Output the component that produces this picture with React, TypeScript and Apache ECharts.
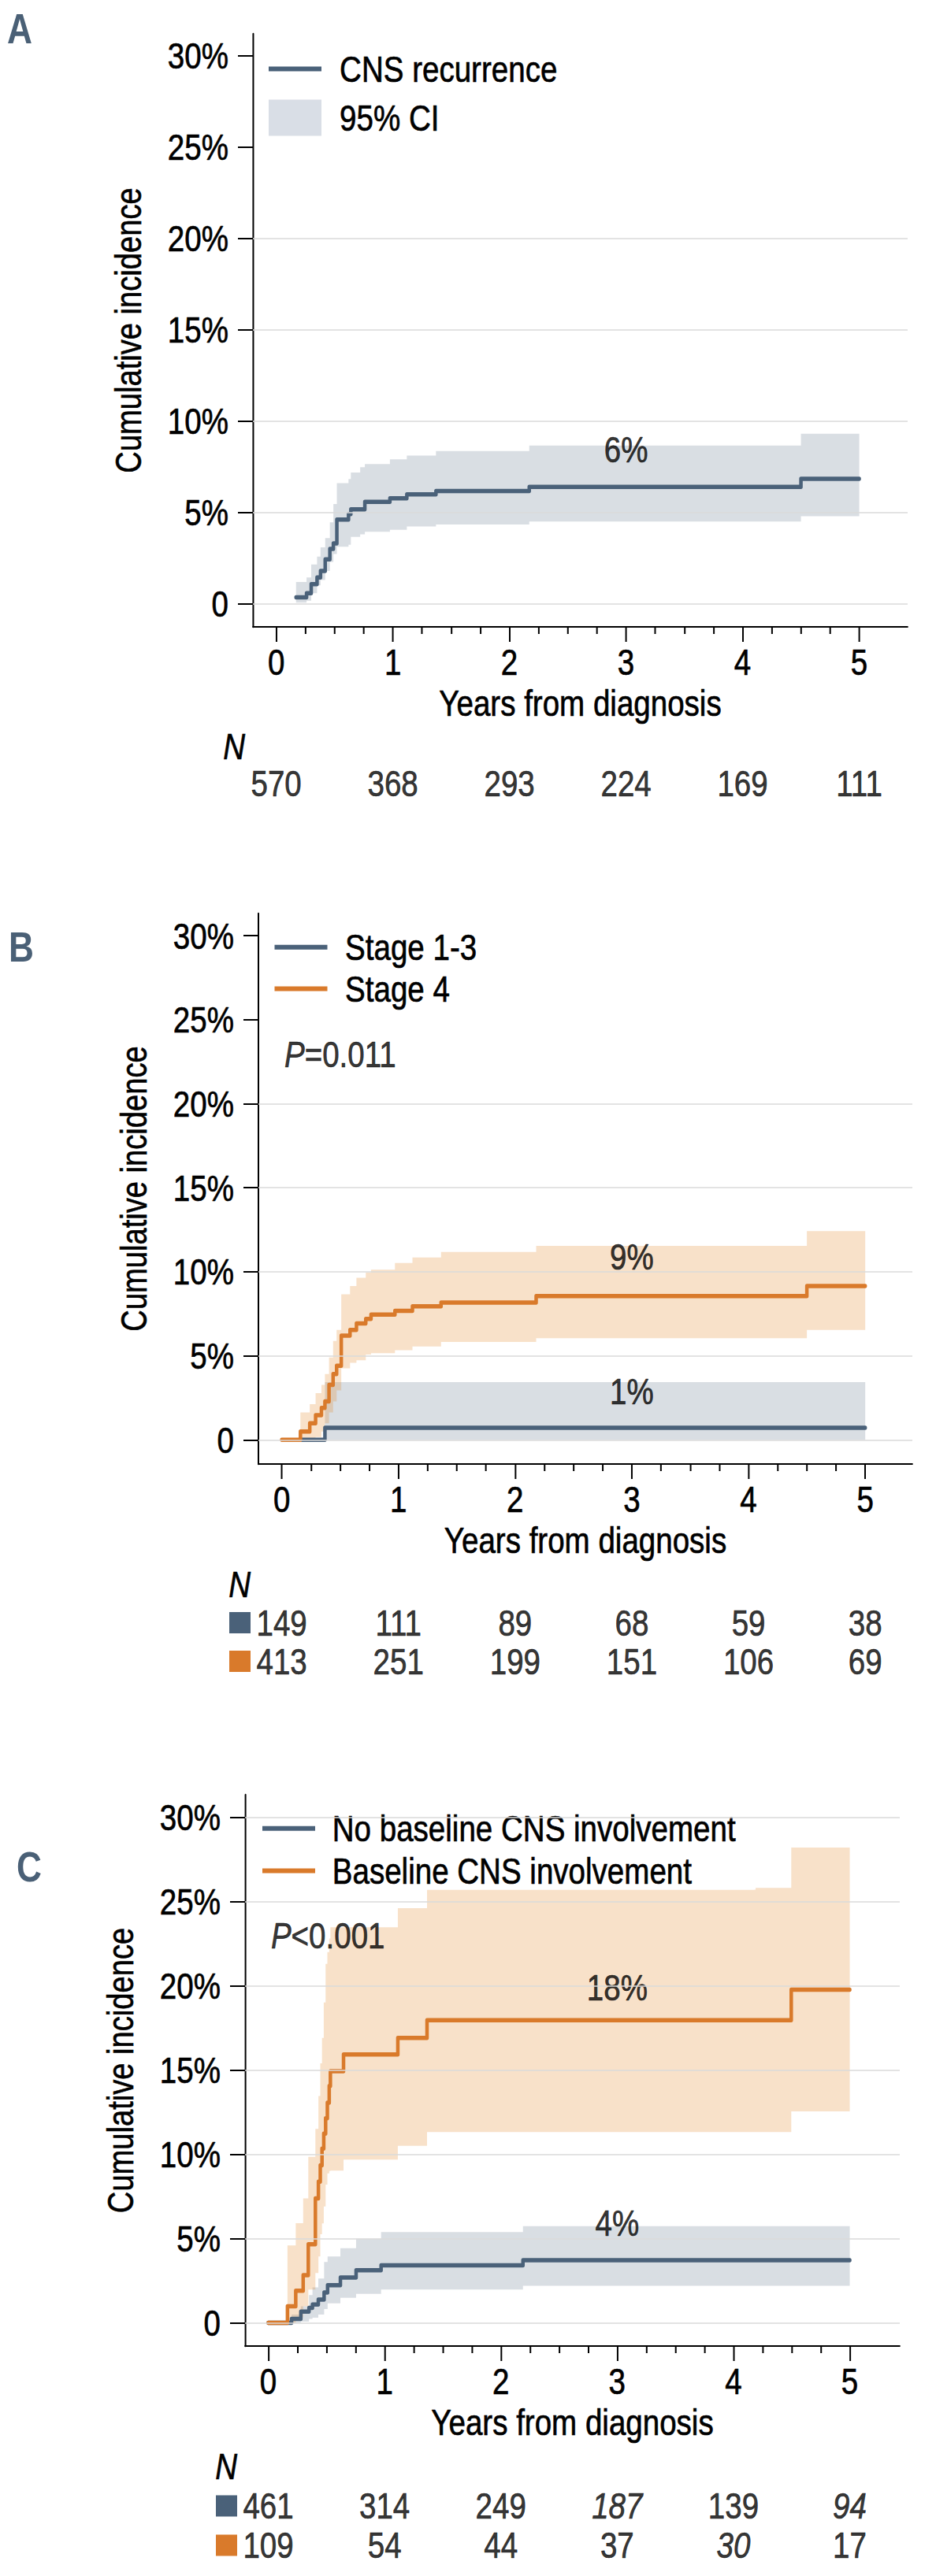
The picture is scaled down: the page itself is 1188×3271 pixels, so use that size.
import React, { useEffect, useRef } from "react";
import * as echarts from "echarts";

// The reference uses a narrow Arial-like face; Liberation Sans is drawn on a
// wider canvas and the whole chart is squeezed horizontally by SX.
const SX = 0.82;
const X = (v: number) => v / SX;
const PAGE_W = 1188;
const PAGE_H = 3271;

const FONT = "'Liberation Sans', Arial, sans-serif";
const FS = 47;
const BLUE = "#4a6179";
const ORANGE = "#d97a2b";
const BLUE_BAND = "rgba(74,97,121,0.21)";
const ORANGE_BAND = "rgba(228,134,40,0.25)";
const BLUE_BAND_SOLID = "#d9dee6";
const GRID_COLOR = "#dadada";
const LETTER_COLOR = "#4a6076";

// ---------- ticks ----------
const yearTicks = [0, 1, 2, 3, 4, 5];
const yearMinorTicks = [0.25, 0.5, 0.75, 1.25, 1.5, 1.75, 2.25, 2.5, 2.75, 3.25, 3.5, 3.75, 4.25, 4.5, 4.75];
const pctTicks = [0, 5, 10, 15, 20, 25, 30];

// ---------- Panel A: CNS recurrence ----------
const aTimes = [0.17, 0.26, 0.3, 0.35, 0.38, 0.42, 0.46, 0.49, 0.52, 0.62, 0.64, 0.72, 0.76, 0.975, 1.12, 1.37, 2.17, 4.5, 5.0];
const aEst = [0.35, 0.57, 1.07, 1.43, 1.79, 2.43, 3.0, 3.3, 4.6, 4.9, 5.16, 5.16, 5.57, 5.77, 5.98, 6.17, 6.39, 6.83, 6.83];
const aUpper = [1.19, 1.43, 2.15, 2.58, 3.08, 3.59, 4.45, 5.45, 6.6, 6.82, 7.18, 7.47, 7.64, 7.9, 8.11, 8.35, 8.66, 9.3, 9.3];
const aLower = [0.06, 0.16, 0.57, 1.0, 1.29, 1.79, 2.29, 2.72, 3.12, 3.22, 3.66, 3.8, 3.94, 4.04, 4.23, 4.33, 4.5, 4.79, 4.79];
const aRisk = [570, 368, 293, 224, 169, 111];

// ---------- Panel B: Stage ----------
const bTimes1 = [0.17, 0.37, 5.0];
const bEst1 = [0, 0.72, 0.72];
const bLower1 = [0, 0, 0];
const bUpper1 = [0, 3.43, 3.43];
const bTimes2 = [0, 0.16, 0.24, 0.29, 0.34, 0.37, 0.405, 0.44, 0.47, 0.51, 0.585, 0.64, 0.72, 0.765, 0.97, 1.12, 1.365, 2.18, 4.5, 5.0];
const bEst2 = [0, 0.49, 0.98, 1.47, 1.9, 2.29, 3.27, 3.92, 4.41, 6.2, 6.54, 6.93, 7.19, 7.45, 7.68, 7.94, 8.17, 8.56, 9.15, 9.15];
const bUpper2 = [0, 1.63, 2.12, 2.78, 3.27, 3.92, 4.9, 5.88, 6.54, 8.66, 9.15, 9.64, 9.95, 10.13, 10.52, 10.85, 11.18, 11.54, 12.42, 12.42];
const bLower2 = [0, 0, 0, 0.16, 0.49, 0.98, 1.63, 2.29, 2.94, 4.25, 4.58, 4.74, 5.07, 5.16, 5.33, 5.56, 5.82, 6.05, 6.54, 6.54];
const bRisk1 = [149, 111, 89, 68, 59, 38];
const bRisk2 = [413, 251, 199, 151, 106, 69];

// ---------- Panel C: Baseline CNS involvement ----------
const cTimes1 = [0, 0.2, 0.28, 0.35, 0.38, 0.43, 0.48, 0.51, 0.62, 0.755, 0.97, 2.19, 5.0];
const cEst1 = [0, 0.23, 0.66, 0.89, 1.08, 1.38, 1.8, 2.23, 2.69, 3.12, 3.41, 3.71, 3.71];
const cUpper1 = [0, 0.49, 0.98, 1.64, 2.1, 2.63, 3.61, 3.94, 4.43, 4.99, 5.38, 5.74, 5.74];
const cLower1 = [0, 0, 0.07, 0.23, 0.3, 0.49, 0.82, 1.15, 1.48, 1.71, 1.97, 2.2, 2.2];
const cTimes2 = [0, 0.165, 0.236, 0.3, 0.344, 0.405, 0.431, 0.447, 0.462, 0.477, 0.493, 0.508, 0.524, 0.534, 0.647, 1.114, 1.365, 4.18, 4.497, 5.0];
const cEst2 = [0, 0.98, 1.9, 2.82, 4.66, 7.38, 8.37, 9.35, 10.34, 11.22, 12.14, 13.06, 14.05, 14.93, 15.92, 16.9, 17.95, 17.95, 19.76, 19.76];
const cUpper2 = [0, 4.59, 5.91, 7.38, 9.85, 11.5, 13.46, 15.4, 16.9, 19.0, 21.3, 22.0, 22.8, 23.47, 23.47, 24.6, 25.7, 25.8, 28.2, 28.2];
const cLower2 = [0, 0, 0.33, 0.98, 1.97, 2.95, 3.94, 5.25, 5.9, 6.9, 8.2, 8.86, 9.0, 9.03, 9.68, 10.5, 11.32, 11.32, 12.54, 12.54];
const cRisk1 = [461, 314, 249, 187, 139, 94];
const cRisk2 = [109, 54, 44, 37, 30, 17];
const cRiskItalic1 = [false, false, false, true, false, true];
const cRiskItalic2 = [false, false, false, false, true, false];
const noItalic = [false, false, false, false, false, false];

interface Curve {
  name: string;
  bandName: string;
  times: number[];
  est: number[];
  lower: number[];
  upper: number[];
  color: string;
  band: string;
}

interface Panel {
  letter: string;
  letterX: number;
  letterY: number;
  grid: { left: number; top: number; width: number; height: number };
  xMin: number;
  xMax: number;
  yMin: number;
  yMax: number;
  curves: Curve[];
  gridLines: number[];
  labels: { value: [number, number]; text: string }[];
  pText?: { value: [number, number]; text: string };
  legends: any[];
  risk: { top: number; height: number; rows: string[]; counts: number[][]; italic: boolean[][] };
}

const TEXT_STROKE = { textBorderColor: "#000", textBorderWidth: 0.7 };
const textBase = { fontSize: FS, fontFamily: FONT, color: "#000", ...TEXT_STROKE };

const legendText = (padLeft: number) => ({
  ...textBase,
  lineHeight: 46,
  padding: [0, 0, 0, X(padLeft)],
});

const panels: Panel[] = [
  {
    letter: "A",
    letterX: 9,
    letterY: 36,
    grid: { left: 321, top: 43, width: 831, height: 753 },
    xMin: -0.2,
    xMax: 5.415,
    yMin: -1.27,
    yMax: 31.19,
    curves: [
      { name: "CNS recurrence", bandName: "95% CI", times: aTimes, est: aEst, lower: aLower, upper: aUpper, color: BLUE, band: BLUE_BAND },
    ],
    gridLines: [0, 5, 10, 15, 20],
    labels: [{ value: [3, 8.43], text: "6%" }],
    legends: [
      {
        data: [{ name: "CNS recurrence", icon: "rect" }],
        left: X(341),
        top: 63.7,
        itemWidth: X(67),
        itemHeight: 6,
        padding: 0,
        textStyle: legendText(19),
      },
      {
        data: [{ name: "95% CI", icon: "rect", itemStyle: { color: BLUE_BAND_SOLID } }],
        left: X(341),
        top: 125.7,
        itemWidth: X(67),
        itemHeight: 46,
        padding: 0,
        textStyle: legendText(19),
      },
    ],
    risk: { top: 923.75, height: 95, rows: ["N", "all"], counts: [aRisk], italic: [noItalic] },
  },
  {
    letter: "B",
    letterX: 11,
    letterY: 1202,
    grid: { left: 328, top: 1160, width: 830, height: 699 },
    xMin: -0.2,
    xMax: 5.404,
    yMin: -1.44,
    yMax: 31.32,
    curves: [
      { name: "Stage 1-3", bandName: "Stage 1-3 CI", times: bTimes1, est: bEst1, lower: bLower1, upper: bUpper1, color: BLUE, band: BLUE_BAND },
      { name: "Stage 4", bandName: "Stage 4 CI", times: bTimes2, est: bEst2, lower: bLower2, upper: bUpper2, color: ORANGE, band: ORANGE_BAND },
    ],
    gridLines: [0, 5, 10, 15, 20],
    labels: [
      { value: [3, 10.91], text: "9%" },
      { value: [3, 2.89], text: "1%" },
    ],
    pText: { value: [0.02, 22.95], text: "{i|P}=0.011" },
    legends: [
      {
        data: [
          { name: "Stage 1-3", icon: "rect" },
          { name: "Stage 4", icon: "rect" },
        ],
        orient: "vertical",
        left: X(348.5),
        top: 1179,
        itemWidth: X(67),
        itemHeight: 6,
        itemGap: 5,
        padding: 0,
        textStyle: legendText(18.5),
      },
    ],
    risk: { top: 1987, height: 147, rows: ["N", "blue", "orange"], counts: [bRisk1, bRisk2], italic: [noItalic, noItalic] },
  },
  {
    letter: "C",
    letterX: 21,
    letterY: 2370,
    grid: { left: 311, top: 2279, width: 831, height: 700 },
    xMin: -0.2,
    xMax: 5.43,
    yMin: -1.38,
    yMax: 31.33,
    curves: [
      { name: "No baseline CNS involvement", bandName: "No baseline CI", times: cTimes1, est: cEst1, lower: cLower1, upper: cUpper1, color: BLUE, band: BLUE_BAND },
      { name: "Baseline CNS involvement", bandName: "Baseline CI", times: cTimes2, est: cEst2, lower: cLower2, upper: cUpper2, color: ORANGE, band: ORANGE_BAND },
    ],
    gridLines: [0, 5, 10, 15, 20, 25, 30],
    labels: [
      { value: [3, 19.92], text: "18%" },
      { value: [3, 5.94], text: "4%" },
    ],
    pText: { value: [0.02, 22.97], text: "{i|P}<0.001" },
    legends: [
      {
        data: [
          { name: "No baseline CNS involvement", icon: "rect" },
          { name: "Baseline CNS involvement", icon: "rect" },
        ],
        orient: "vertical",
        left: X(313),
        top: 2288,
        itemWidth: X(67),
        itemHeight: 6,
        itemGap: 6,
        padding: [10, X(25), 0, X(20)],
        backgroundColor: "#ffffff",
        textStyle: legendText(17.7),
      },
    ],
    risk: { top: 3107, height: 150, rows: ["N", "blue", "orange"], counts: [cRisk1, cRisk2], italic: [cRiskItalic1, cRiskItalic2] },
  },
];

const hLine = { color: "#000", width: 2 };
const vLine = { color: "#000", width: X(2) };

function bandRenderer(c: Curve) {
  return (_params: any, api: any) => {
    const n = c.times.length;
    const top: number[][] = [];
    const bottom: number[][] = [];
    for (let i = 0; i < n - 1; i++) {
      top.push(api.coord([c.times[i], c.upper[i]]));
      top.push(api.coord([c.times[i + 1], c.upper[i]]));
      bottom.push(api.coord([c.times[i], c.lower[i]]));
      bottom.push(api.coord([c.times[i + 1], c.lower[i]]));
    }
    return {
      type: "polygon",
      shape: { points: top.concat(bottom.reverse()) },
      style: { fill: c.band, stroke: null },
      silent: true,
    };
  };
}

function buildOption() {
  const grid: any[] = [];
  const xAxis: any[] = [];
  const yAxis: any[] = [];
  const series: any[] = [];
  const legend: any[] = [];
  const graphic: any[] = [];

  panels.forEach((p) => {
    const gl = X(p.grid.left);
    const gw = X(p.grid.width);
    const gMain = grid.length;
    grid.push({ left: gl, top: p.grid.top, width: gw, height: p.grid.height, containLabel: false });
    const gRisk = grid.length;
    grid.push({ left: gl, top: p.risk.top, width: gw, height: p.risk.height, containLabel: false });

    const xMain = xAxis.length;
    xAxis.push({
      gridIndex: gMain,
      type: "value",
      min: p.xMin,
      max: p.xMax,
      position: "bottom",
      axisLine: { show: true, onZero: false, lineStyle: hLine },
      axisTick: { show: true, customValues: yearTicks, length: 19, lineStyle: vLine },
      axisLabel: { show: true, customValues: yearTicks, margin: 21, ...textBase },
      splitLine: { show: false },
      name: "Years from diagnosis",
      nameLocation: "middle",
      nameGap: 73,
      nameTextStyle: textBase,
    });
    xAxis.push({
      gridIndex: gMain,
      type: "value",
      min: p.xMin,
      max: p.xMax,
      position: "bottom",
      axisLine: { show: false, onZero: false },
      axisTick: { show: true, customValues: yearMinorTicks, length: 9, lineStyle: vLine },
      axisLabel: { show: false },
      splitLine: { show: false },
    });
    const xRisk = xAxis.length;
    xAxis.push({ gridIndex: gRisk, type: "value", min: p.xMin, max: p.xMax, show: false });

    const yMain = yAxis.length;
    yAxis.push({
      gridIndex: gMain,
      type: "value",
      min: p.yMin,
      max: p.yMax,
      axisLine: { show: true, onZero: false, lineStyle: vLine },
      axisTick: { show: true, customValues: pctTicks, length: X(19), lineStyle: hLine },
      axisLabel: {
        show: true,
        customValues: pctTicks,
        margin: X(31),
        formatter: (v: number) => (v === 0 ? "0" : `${v}%`),
        ...textBase,
      },
      splitLine: { show: false },
    });
    const yRisk = yAxis.length;
    yAxis.push({
      gridIndex: gRisk,
      type: "category",
      inverse: true,
      data: p.risk.rows,
      axisLine: { show: false },
      axisTick: { show: false },
      splitLine: { show: false },
      axisLabel: {
        show: true,
        margin: X(10),
        formatter: (v: string) => (v === "N" ? "{n|N}" : v === "blue" ? "{b|}" : v === "orange" ? "{o|}" : ""),
        rich: {
          n: { fontStyle: "italic", ...textBase },
          b: { width: X(27), height: 27, backgroundColor: BLUE },
          o: { width: X(27), height: 27, backgroundColor: ORANGE },
        },
      },
    });

    // gridlines
    series.push({
      type: "line",
      name: `grid-${p.letter}`,
      xAxisIndex: xMain,
      yAxisIndex: yMain,
      data: [],
      silent: true,
      z: 1,
      markLine: {
        silent: true,
        symbol: ["none", "none"],
        label: { show: false },
        lineStyle: { color: GRID_COLOR, width: 1.5, type: "solid" },
        data: p.gridLines.map((v) => ({ yAxis: v })),
      },
    });

    // confidence bands
    p.curves.forEach((c) => {
      series.push({
        type: "custom",
        name: c.bandName,
        xAxisIndex: xMain,
        yAxisIndex: yMain,
        z: 2,
        silent: true,
        itemStyle: { color: c.band },
        data: [[c.times[0], c.lower[0]]],
        renderItem: bandRenderer(c),
      });
    });

    // cumulative incidence step lines
    p.curves.forEach((c) => {
      series.push({
        type: "line",
        name: c.name,
        xAxisIndex: xMain,
        yAxisIndex: yMain,
        z: 3,
        step: "end",
        symbol: "none",
        showSymbol: false,
        silent: true,
        color: c.color,
        itemStyle: { color: c.color },
        lineStyle: { color: c.color, width: 5.5, cap: "round", join: "round" },
        data: c.times.map((t, i) => [t, c.est[i]]),
      });
    });

    // percentage labels and p value
    const annot: any[] = p.labels.map((l) => ({
      value: l.value,
      label: { show: true, position: "inside", formatter: l.text, ...textBase },
    }));
    if (p.pText) {
      annot.push({
        value: p.pText.value,
        label: {
          show: true,
          position: "right",
          distance: 0,
          formatter: p.pText.text,
          ...textBase,
          rich: { i: { fontStyle: "italic", ...textBase } },
        },
      });
    }
    series.push({
      type: "scatter",
      name: `labels-${p.letter}`,
      xAxisIndex: xMain,
      yAxisIndex: yMain,
      z: 4,
      silent: true,
      symbolSize: 1,
      itemStyle: { color: "rgba(0,0,0,0)" },
      data: annot,
    });

    // numbers at risk
    const riskData: any[] = [];
    p.risk.counts.forEach((row, r) => {
      row.forEach((n, i) => {
        riskData.push({
          value: [yearTicks[i], p.risk.rows[r + 1]],
          label: {
            show: true,
            position: "inside",
            formatter: String(n),
            ...textBase,
            fontStyle: p.risk.italic[r][i] ? "italic" : "normal",
          },
        });
      });
    });
    series.push({
      type: "scatter",
      name: `risk-${p.letter}`,
      xAxisIndex: xRisk,
      yAxisIndex: yRisk,
      silent: true,
      symbolSize: 1,
      itemStyle: { color: "rgba(0,0,0,0)" },
      data: riskData,
    });

    p.legends.forEach((l) => legend.push({ selectedMode: false, orient: "vertical", ...l }));

    // panel letter
    graphic.push({
      type: "text",
      x: X(p.letterX),
      y: p.letterY,
      silent: true,
      style: {
        text: p.letter,
        fontSize: 54,
        fontWeight: "bold",
        fontFamily: FONT,
        fill: LETTER_COLOR,
        align: "left",
        verticalAlign: "middle",
        textAlign: "left",
        textVerticalAlign: "middle",
      },
    });

    // y axis title (rotated, kept narrow along its length)
    graphic.push({
      type: "text",
      x: X(p.grid.left - 158),
      y: p.grid.top + p.grid.height / 2,
      rotation: Math.PI / 2,
      scaleX: SX,
      scaleY: 1 / SX,
      silent: true,
      style: {
        text: "Cumulative incidence",
        fontSize: 46.5,
        fontFamily: FONT,
        fill: "#000",
        stroke: "#000",
        lineWidth: 0.6,
        align: "center",
        verticalAlign: "middle",
        textAlign: "center",
        textVerticalAlign: "middle",
      },
    });
  });

  return {
    animation: false,
    backgroundColor: "#ffffff",
    grid,
    xAxis,
    yAxis,
    series,
    legend,
    graphic,
  };
}

export default function App() {
  const ref = useRef<HTMLDivElement>(null);
  useEffect(() => {
    if (!ref.current) return;
    const chart = echarts.init(ref.current, null, { renderer: "svg" });
    chart.setOption(buildOption() as any);
    return () => chart.dispose();
  }, []);
  return (
    <div
      style={{
        position: "absolute",
        left: 0,
        top: 0,
        width: PAGE_W,
        height: PAGE_H,
        overflow: "hidden",
        background: "#fff",
      }}
    >
      <div
        ref={ref}
        style={{
          position: "absolute",
          left: 0,
          top: 0,
          width: X(PAGE_W),
          height: PAGE_H,
          transform: `scaleX(${SX})`,
          transformOrigin: "0 0",
        }}
      />
    </div>
  );
}
